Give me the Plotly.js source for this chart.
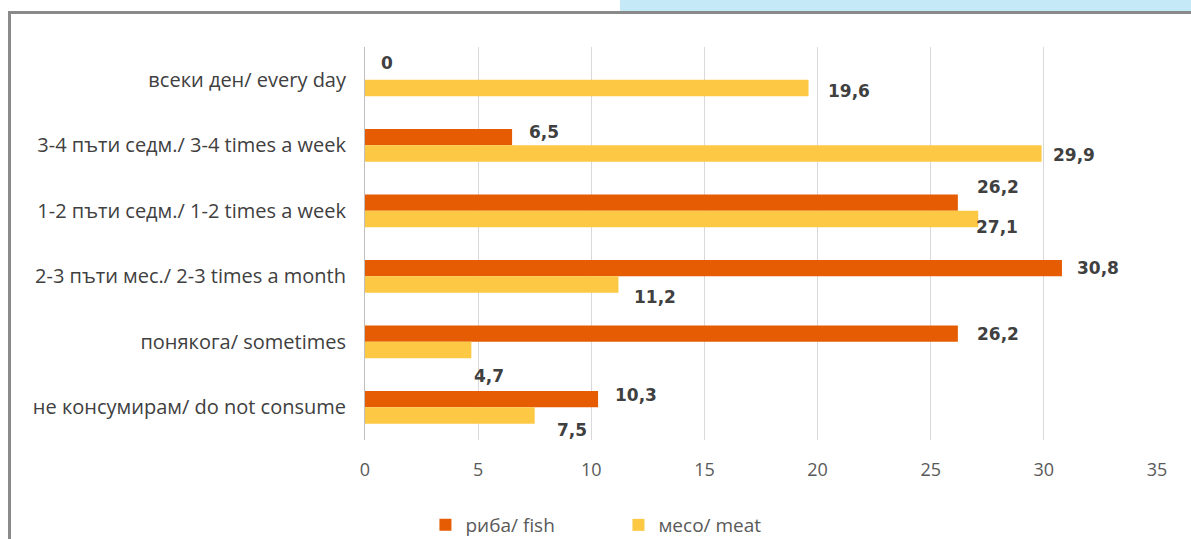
<!DOCTYPE html>
<html>
<head>
<meta charset="utf-8">
<script src="https://cdn.plot.ly/plotly-3.0.1.min.js"></script>
<style>
  html, body { margin: 0; padding: 0; background: #ffffff; overflow: hidden; }
  #wrap { position: relative; width: 1191px; height: 539px; }
  #bluebox { position: absolute; left: 620px; top: 0; width: 571px; height: 11px; background: #C6E9F8; }
  #frame { position: absolute; left: 8px; top: 11px; width: 1200px; height: 600px;
           border-top: 3px solid #8a8a8a; border-left: 3px solid #8a8a8a; }
  #chart { position: absolute; left: 0; top: 0; width: 1191px; height: 539px; }
</style>
</head>
<body>
<div id="wrap">
  <div id="bluebox"></div>
  <div id="frame"></div>
  <div id="chart"></div>
</div>
<script>
// ---- data ----
const categories = [
  "всеки ден/ every day",
  "3-4 пъти седм./ 3-4 times a week",
  "1-2 пъти седм./ 1-2 times a week",
  "2-3 пъти мес./ 2-3 times a month",
  "понякога/ sometimes",
  "не консумирам/ do not consume"
];
const fishName = "риба/ fish";
const meatName = "месо/ meat";
const fishValues = [0, 6.5, 26.2, 30.8, 26.2, 10.3];
const meatValues = [19.6, 29.9, 27.1, 11.2, 4.7, 7.5];
const xTicks = [0, 5, 10, 15, 20, 25, 30, 35];

// ---- label placement nudges (pixels; style only) ----
const fishNudgeX = [14, 15, 17, 13, 17, 15];
const fishNudgeY = [17, 13.5, 23.5, 8.5, 8, 12.5];
const meatNudgeX = [17, 9, -4, 14, 1, 20];
const meatNudgeY = [-11, -9.5, -16.5, -20.5, -34, -22.5];

const fishColor = "#E55C02";
const meatColor = "#FDC945";

function fmt(v) { return String(v).replace(".", ","); }

const traces = [
  { type: "bar", orientation: "h", name: fishName, y: categories, x: fishValues,
    marker: { color: fishColor }, hoverinfo: "x+name" },
  { type: "bar", orientation: "h", name: meatName, y: categories, x: meatValues,
    marker: { color: meatColor }, hoverinfo: "x+name" }
];

const labelFont = { family: "DejaVu Sans", size: 17, color: "#404040", weight: "bold" };
const annotations = [];
categories.forEach((c, i) => {
  annotations.push({ x: fishValues[i], y: c, xref: "x", yref: "y", text: "<b>" + fmt(fishValues[i]) + "</b>",
    showarrow: false, xanchor: "left", yanchor: "middle", xshift: fishNudgeX[i], yshift: fishNudgeY[i], font: labelFont });
  annotations.push({ x: meatValues[i], y: c, xref: "x", yref: "y", text: "<b>" + fmt(meatValues[i]) + "</b>",
    showarrow: false, xanchor: "left", yanchor: "middle", xshift: meatNudgeX[i], yshift: meatNudgeY[i], font: labelFont });
});

const layout = {
  width: 1191, height: 539,
  margin: { l: 365, r: 34, t: 47, b: 99, autoexpand: false },
  paper_bgcolor: "rgba(0,0,0,0)",
  plot_bgcolor: "rgba(0,0,0,0)",
  barmode: "group",
  bargap: 0.5,
  bargroupgap: 0,
  showlegend: true,
  legend: { orientation: "h", x: 0.32, xanchor: "center", y: -0.168, yanchor: "top",
            font: { family: "Open Sans", size: 19, color: "#595959" }, entrywidth: 148,
            traceorder: "normal" },
  xaxis: {
    range: [0, 35], tickvals: xTicks, ticktext: xTicks.map(String),
    showgrid: true, gridcolor: "#d9d9d9", gridwidth: 1, zeroline: false, showline: false,
    ticks: "", ticklabelstandoff: 17, automargin: false,
    tickfont: { family: "Open Sans", size: 18, color: "#595959" }, fixedrange: true
  },
  yaxis: {
    type: "category", autorange: "reversed", showgrid: false, zeroline: false, automargin: false,
    showline: true, linecolor: "#bfbfbf", linewidth: 1, ticks: "", ticklabelstandoff: 14,
    tickfont: { family: "Open Sans", size: 20, color: "#404040" }, fixedrange: true
  },
  annotations: annotations
};

Plotly.newPlot("chart", traces, layout, { displayModeBar: false, staticPlot: true });
</script>
</body>
</html>
